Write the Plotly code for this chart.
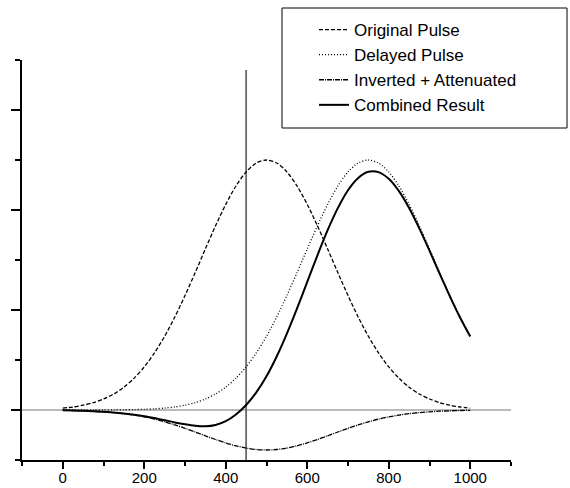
import plotly.graph_objects as go

# ---- data ----
x_vals = [0, 25, 50, 75, 100, 125, 150, 175, 200, 225, 250, 275, 300, 325, 350, 375, 400,
          425, 450, 475, 500, 525, 550, 575, 600, 625, 650, 675, 700, 725, 750, 775, 800,
          825, 850, 875, 900, 925, 950, 975, 1000]

original_pulse = [0.019, 0.030, 0.048, 0.073, 0.110, 0.160, 0.228, 0.318, 0.431, 0.571, 0.737,
                  0.930, 1.145, 1.374, 1.611, 1.842, 2.056, 2.240, 2.381, 2.470, 2.500,
                  2.470, 2.381, 2.240, 2.056, 1.842, 1.611, 1.374, 1.145, 0.930, 0.737,
                  0.571, 0.431, 0.318, 0.228, 0.160, 0.110, 0.073, 0.048, 0.030, 0.019]

delayed_pulse = [0.000, 0.000, 0.000, 0.000, 0.001, 0.001, 0.002, 0.004, 0.007, 0.012, 0.019,
                 0.030, 0.048, 0.073, 0.110, 0.160, 0.228, 0.318, 0.431, 0.571, 0.737,
                 0.930, 1.145, 1.374, 1.611, 1.842, 2.056, 2.240, 2.381, 2.470, 2.500,
                 2.470, 2.381, 2.240, 2.056, 1.842, 1.611, 1.374, 1.145, 0.930, 0.737]

inverted_attenuated = [-0.003, -0.005, -0.008, -0.012, -0.018, -0.026, -0.036, -0.051, -0.069, -0.091, -0.118,
                       -0.149, -0.183, -0.220, -0.258, -0.295, -0.329, -0.358, -0.381, -0.395, -0.400,
                       -0.395, -0.381, -0.358, -0.329, -0.295, -0.258, -0.220, -0.183, -0.149, -0.118,
                       -0.091, -0.069, -0.051, -0.036, -0.026, -0.018, -0.012, -0.008, -0.005, -0.003]

combined_result = [-0.003, -0.005, -0.008, -0.012, -0.017, -0.025, -0.034, -0.047, -0.062, -0.081, -0.102,
                   -0.124, -0.143, -0.158, -0.163, -0.150, -0.112, -0.045, 0.050, 0.176, 0.337,
                   0.535, 0.764, 1.016, 1.282, 1.547, 1.798, 2.019, 2.198, 2.321, 2.382,
                   2.379, 2.312, 2.189, 2.020, 1.816, 1.593, 1.362, 1.137, 0.925, 0.734]

series_names = ["Original Pulse", "Delayed Pulse", "Inverted + Attenuated", "Combined Result"]
x_tick_vals = [0, 200, 400, 600, 800, 1000]
x_tick_text = ["0", "200", "400", "600", "800", "1000"]

marker_x = 450      # vertical reference line
baseline_y = 0      # horizontal reference line

FONT = "Arial, Liberation Sans, sans-serif"

fig = go.Figure()
styles = [
    dict(color="black", width=1.3, dash="4px,2px"),
    dict(color="black", width=1.3, dash="1px,2px"),
    dict(color="black", width=1.3, dash="5px,1px,1px,1px"),
    dict(color="black", width=2.0, dash="solid"),
]
for name, ys, st in zip(series_names,
                        [original_pulse, delayed_pulse, inverted_attenuated, combined_result],
                        styles):
    fig.add_trace(go.Scatter(x=x_vals, y=ys, mode="lines", name=name,
                             line=dict(shape="spline", smoothing=0.8, **st)))

# reference lines
fig.add_shape(type="line", xref="x", yref="y", x0=-100, x1=1100, y0=baseline_y, y1=baseline_y,
              line=dict(color="#777777", width=1.2), layer="below")
fig.add_shape(type="line", xref="x", yref="y", x0=marker_x, x1=marker_x, y0=-0.5, y1=3.4,
              line=dict(color="#6a6a6a", width=1.8), layer="below")

# legend frame
fig.add_shape(type="rect", xref="paper", yref="paper",
              x0=(282 - 22) / 489, x1=(567 - 22) / 489,
              y0=(460 - 128) / 400, y1=(460 - 8) / 400,
              line=dict(color="black", width=1), fillcolor="rgba(0,0,0,0)", layer="above")

fig.update_layout(
    width=570, height=488,
    margin=dict(l=22, r=59, t=60, b=28, autoexpand=False),
    paper_bgcolor="white", plot_bgcolor="white",
    font=dict(family=FONT, color="black", size=15),
    showlegend=True,
    legend=dict(x=(314 - 22) / 489, y=(460 - 12) / 400, xanchor="left", yanchor="top",
                bgcolor="rgba(0,0,0,0)", borderwidth=0,
                font=dict(family=FONT, size=17, color="black"),
                tracegroupgap=0),
    xaxis=dict(range=[-100, 1100], showgrid=False, zeroline=False, automargin=False,
               showline=True, linecolor="black", linewidth=1.5,
               ticks="outside", ticklen=7, tickwidth=1.5, tickcolor="black",
               tickmode="array", tickvals=x_tick_vals, ticktext=x_tick_text,
               tickfont=dict(size=15), ticklabelstandoff=-4,
               minor=dict(ticks="outside", ticklen=4, tickwidth=1.5, tickcolor="black",
                          tickmode="linear", tick0=-100, dtick=200)),
    yaxis=dict(range=[-0.5, 3.5], showgrid=False, zeroline=False, automargin=False,
               showline=True, linecolor="black", linewidth=1.5,
               ticks="outside", ticklen=9, tickwidth=1.5, tickcolor="black",
               tickmode="linear", tick0=0, dtick=1, showticklabels=False,
               minor=dict(ticks="outside", ticklen=5, tickwidth=1.5, tickcolor="black",
                          tickmode="linear", tick0=0.5, dtick=1)),
)

fig.write_html("out.html")
